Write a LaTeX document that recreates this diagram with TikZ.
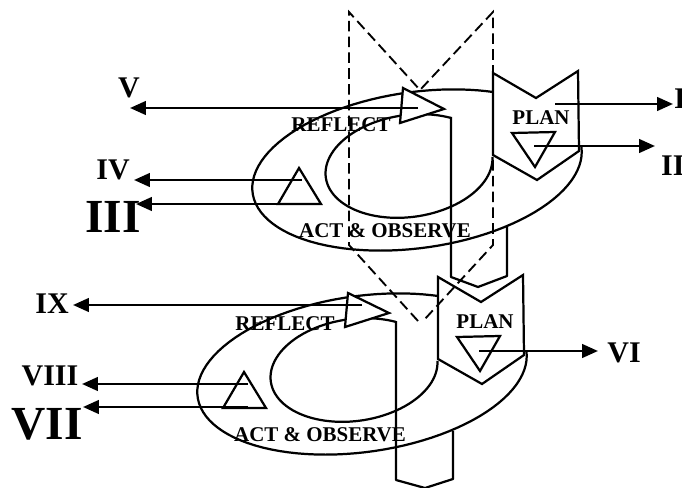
\documentclass[tikz,border=0pt]{standalone}
\usepackage{fontspec}
\setmainfont{Liberation Serif}
\usetikzlibrary{arrows.meta}
\tikzset{
	ring/.style={line width=1.9pt, line join=round},
	funnel/.style={line width=1.6pt, dash pattern=on 9pt off 4.5pt},
	plate/.style={line width=1.9pt, fill=white, line join=miter},
	outarrow/.style={line width=2.2pt, -{Triangle[length=13.5pt, width=11.5pt]}},
	tag/.style={inner sep=0pt, font=\fontsize{17.9}{20}\selectfont\bfseries},
	num/.style={inner sep=0pt, font=\fontsize{25.6}{28}\selectfont\bfseries},
	bignum/.style={inner sep=0pt, font=\fontsize{40.5}{44}\selectfont\bfseries},
}
% arc of a tilted ring: centre x, centre y, x radius, y radius, from, to
\newcommand{\ringpart}[6]{%
	\draw[ring] plot[domain=#5:#6, samples=90, variable=\t]
		({#1+#3*cos(\t)*cos(8)-#4*sin(\t)*sin(8)}, {#2-#3*cos(\t)*sin(8)-#4*sin(\t)*cos(8)});}

\begin{document}
\begin{tikzpicture}[x=0.03cm, y=-0.03cm]
	% Rings, plates, arrows and labels:
	\useasboundingbox (0,0) rectangle (682,488);
	\ringpart{417}{170}{166}{78}{54}{360}
	\ringpart{409}{166}{84}{51}{55}{357}
	\draw[ring] (451,117) -- (451,277) -- (478,287) -- (507,276) -- (507,227);
	\draw[plate] (493,73) -- (536,98) -- (578,71) -- (579,151) -- (537,180) -- (493,155) -- cycle;
	\draw[plate] (403,88) -- (444,109) -- (400,123) -- cycle;
	\draw[plate] (299,168) -- (321,204) -- (278,204) -- cycle;
	\draw[plate] (512,133) -- (555,132) -- (535,167) -- cycle;
	\node[tag] (reflectA) at (341,124.5) {REFLECT};
	\node[tag] (planA) at (541,118) {PLAN};
	\node[tag] (actA) at (385,230.5) {ACT \& OBSERVE};
	\node[num] (labV) at (129,88) {V};
	\node[num] (labIV) at (113,170) {IV};
	\node[bignum] (labIII) at (113,217) {III};
	\node[num, anchor=west] (labI) at (674,99) {I};
	\node[num, anchor=west] (labII) at (661,166) {II};
	\coordinate (tailV) at (418,108);  \coordinate (tipV) at (130,108);
	\coordinate (tailIV) at (302,180); \coordinate (tipIV) at (134,180);
	\coordinate (tailIII) at (300,204); \coordinate (tipIII) at (136,204);
	\coordinate (tailI) at (555,104);  \coordinate (tipI) at (673,104);
	\coordinate (tailII) at (534,146); \coordinate (tipII) at (655,146);
	\draw[outarrow] (tailV) -- (tipV);
	\draw[outarrow] (tailIV) -- (tipIV);
	\draw[outarrow] (tailIII) -- (tipIII);
	\draw[outarrow] (tailI) -- (tipI);
	\draw[outarrow] (tailII) -- (tipII);

	\ringpart{362}{374}{166}{78}{54}{360}
	\ringpart{354}{370}{84}{51}{55}{357}
	\draw[ring] (396,321) -- (396,480) -- (425,488) -- (453,479) -- (453,431);
	\draw[plate] (438,277) -- (481,302) -- (523,275) -- (524,355) -- (482,384) -- (438,359) -- cycle;
	\draw[plate] (348,293) -- (389,313) -- (345,327) -- cycle;
	\draw[plate] (244,372) -- (266,408) -- (223,408) -- cycle;
	\draw[plate] (457,337) -- (500,336) -- (480,371) -- cycle;
	\node[tag] (reflectB) at (285,324) {REFLECT};
	\node[tag] (planB) at (485,322) {PLAN};
	\node[tag] (actB) at (320,434.5) {ACT \& OBSERVE};
	\node[num] (labIX) at (52,304) {IX};
	\node[num] (labVIII) at (50,376) {VIII};
	\node[bignum] (labVII) at (47,424) {VII};
	\node[num] (labVI) at (624,353) {VI};
	\coordinate (tailIX) at (362,305);  \coordinate (tipIX) at (73,305);
	\coordinate (tailVIII) at (248,384); \coordinate (tipVIII) at (82,384);
	\coordinate (tailVII) at (248,407);  \coordinate (tipVII) at (83,407);
	\coordinate (tailVI) at (479,351);   \coordinate (tipVI) at (598,351);
	\draw[outarrow] (tailIX) -- (tipIX);
	\draw[outarrow] (tailVIII) -- (tipVIII);
	\draw[outarrow] (tailVII) -- (tipVII);
	\draw[outarrow] (tailVI) -- (tipVI);

	\draw[funnel] (418,321) -- (349,245) -- (349,12) -- (420,90) -- (493,12) -- (493,245) -- (424,320);
\end{tikzpicture}
\end{document}
